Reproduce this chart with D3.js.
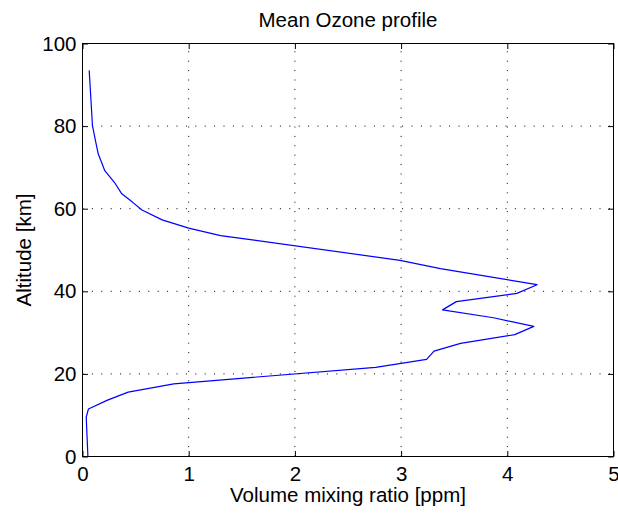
<!DOCTYPE html>
<html>
<head>
<meta charset="utf-8">
<script src="https://cdn.jsdelivr.net/npm/d3@7"></script>
<style>
  html, body { margin: 0; padding: 0; background: #fff; }
  svg text { font-family: "Liberation Sans", Arial, Helvetica, sans-serif; fill: #000; }
</style>
</head>
<body>
<div id="chart"></div>
<script>
// Mean ozone volume mixing ratio profile
const altitudeKm = [0, 9.5, 11.5, 13.6, 15.6, 17.6, 21.6, 23.5, 25.5, 27.4, 29.5, 31.5,
  33.6, 35.5, 37.5, 39.5, 41.6, 45.5, 47.5, 53.5, 55.3, 57.3, 59.7, 61.6, 63.6,
  66.4, 69.2, 73.3, 76.5, 80.1, 93.5];
const vmrPpm = [0.051, 0.035, 0.056, 0.23, 0.43, 0.86, 2.76, 3.24, 3.31, 3.56, 4.07, 4.25,
  3.87, 3.39, 3.52, 4.09, 4.28, 3.37, 2.99, 1.30, 1.00, 0.75, 0.56, 0.47, 0.37,
  0.30, 0.21, 0.148, 0.122, 0.094, 0.063];
const xTicks = [0, 1, 2, 3, 4, 5];
const yTicks = [0, 20, 40, 60, 80, 100];

const titleText = "Mean Ozone profile";
const xLabelText = "Volume mixing ratio [ppm]";
const yLabelText = "Altitude [km]";

const W = 618, H = 514;
const plot = { left: 82.5, right: 613.5, top: 43.5, bottom: 456.5 };
const fontSize = 20.5;
const tickLen = 5.5;

const svg = d3.select("#chart").append("svg")
  .attr("width", W).attr("height", H)
  .attr("viewBox", `0 0 ${W} ${H}`);

const x = d3.scaleLinear().domain([0, 5]).range([plot.left, plot.right]);
const y = d3.scaleLinear().domain([0, 100]).range([plot.bottom, plot.top]);
const fmt = d3.format("d");

// dotted grid
const grid = svg.append("g")
  .attr("stroke", "#000").attr("stroke-width", 1)
  .attr("stroke-dasharray", "1,8.4");
grid.selectAll("line.vx").data(xTicks.slice(1, -1)).join("line")
  .attr("x1", d => x(d)).attr("x2", d => x(d))
  .attr("y1", plot.bottom).attr("y2", plot.top);
grid.selectAll("line.hy").data(yTicks.slice(1, -1)).join("line")
  .attr("y1", d => y(d)).attr("y2", d => y(d))
  .attr("x1", plot.left).attr("x2", plot.right);

// profile line
const pts = altitudeKm.map((a, i) => ({ alt: a, vmr: vmrPpm[i] }));
const line = d3.line().x(d => x(d.vmr)).y(d => y(d.alt));
svg.append("path").datum(pts)
  .attr("fill", "none").attr("stroke", "#0000ff")
  .attr("stroke-width", 1.2).attr("stroke-linejoin", "round")
  .attr("d", line);

// axes: ticks inside on all four sides
const axBottom = d3.axisBottom(x).tickValues(xTicks).tickFormat(fmt).tickSizeInner(-tickLen).tickSizeOuter(0);
const axTop = d3.axisTop(x).tickValues(xTicks).tickSizeInner(-tickLen).tickSizeOuter(0).tickFormat("");
const axLeft = d3.axisLeft(y).tickValues(yTicks).tickFormat(fmt).tickSizeInner(-tickLen).tickSizeOuter(0);
const axRight = d3.axisRight(y).tickValues(yTicks).tickSizeInner(-tickLen).tickSizeOuter(0).tickFormat("");

function styleAxis(g) {
  g.select(".domain").remove();
  g.selectAll(".tick line").attr("stroke", "#000").attr("stroke-width", 1);
  g.selectAll(".tick text").attr("font-size", fontSize).attr("fill", "#000")
    .attr("font-family", "Liberation Sans, Arial, Helvetica, sans-serif");
}
svg.append("g").attr("transform", `translate(0,${plot.bottom})`).call(axBottom).call(styleAxis)
  .selectAll(".tick text").attr("dy", "0.71em").attr("y", 10);
svg.append("g").attr("transform", `translate(0,${plot.top})`).call(axTop).call(styleAxis);
svg.append("g").attr("transform", `translate(${plot.left},0)`).call(axLeft).call(styleAxis)
  .selectAll(".tick text").attr("x", -6);
svg.append("g").attr("transform", `translate(${plot.right},0)`).call(axRight).call(styleAxis);

// box
svg.append("rect")
  .attr("x", plot.left).attr("y", plot.top)
  .attr("width", plot.right - plot.left).attr("height", plot.bottom - plot.top)
  .attr("fill", "none").attr("stroke", "#000").attr("stroke-width", 1);

// title and axis labels
svg.append("text").attr("x", (plot.left + plot.right) / 2).attr("y", 27)
  .attr("text-anchor", "middle").attr("font-size", fontSize).text(titleText);
svg.append("text").attr("x", (plot.left + plot.right) / 2).attr("y", 502)
  .attr("text-anchor", "middle").attr("font-size", fontSize).text(xLabelText);
svg.append("text")
  .attr("transform", `translate(31,${(plot.top + plot.bottom) / 2}) rotate(-90)`)
  .attr("text-anchor", "middle").attr("font-size", fontSize).text(yLabelText);
</script>
</body>
</html>
